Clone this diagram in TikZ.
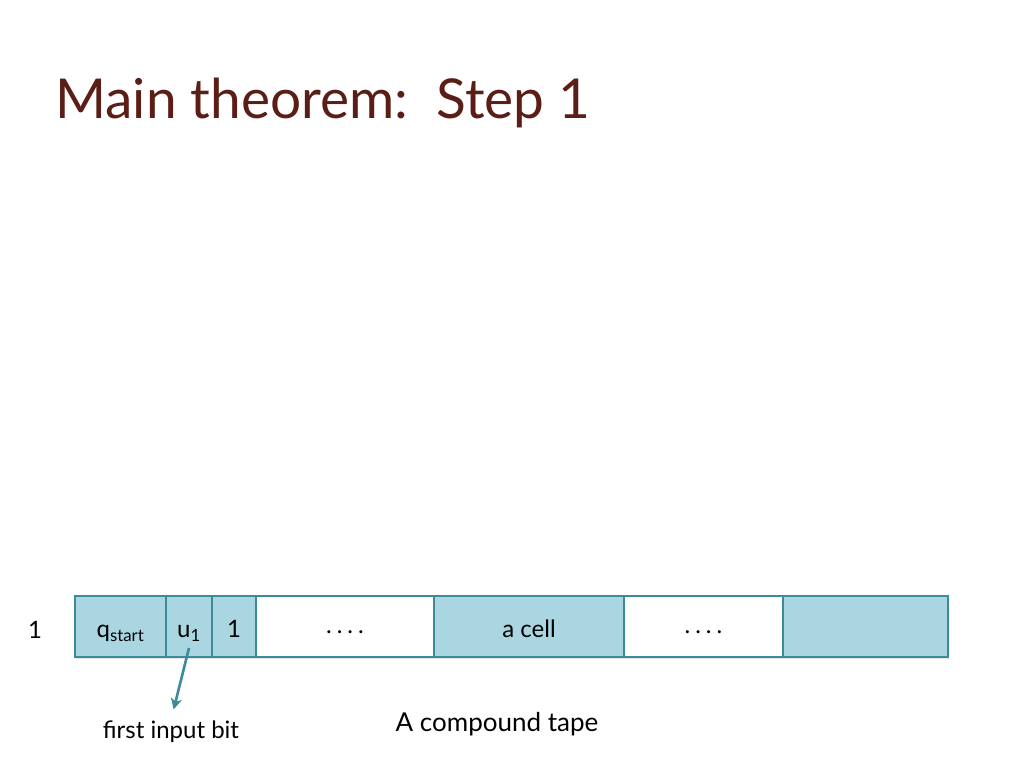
\documentclass[tikz,border=0pt]{standalone}
\usepackage{fontspec}
\setmainfont{Lato}
\usetikzlibrary{positioning, shadows, arrows.meta}
\definecolor{cellblue}{HTML}{A9D6E1}
\definecolor{celledge}{HTML}{3D8A99}
\definecolor{titlebrown}{HTML}{5B1E17}
\newcommand{\tapedots}{\raisebox{4pt}{.\hspace{5pt}.\hspace{5pt}.\hspace{5pt}.}}
\tikzset{
    cellnode/.style = {draw=celledge, fill=cellblue, rectangle, line width=1.8pt, inner sep=0pt,
      outer sep=0pt, minimum height=61pt, text height=26pt, text depth=4pt, node distance=0pt,
      font=\fontsize{24}{28}\selectfont,
      drop shadow={shadow xshift=1pt, shadow yshift=-2pt, opacity=0.2}},
    blanknode/.style = {cellnode, fill=white},
    textnode/.style = {draw=none, fill=none, rectangle, inner sep=0pt, font=\fontsize{24}{28}\selectfont},
    pointer/.style = {celledge, line width=2.6pt, -{Stealth[length=11pt, width=11pt, inset=3pt]}}
}

\begin{document}
\begin{tikzpicture}[x=1pt, y=-1pt]
    \fill[white] (0,0) rectangle (1024,768);
    \useasboundingbox (0,0) rectangle (1024,768);

    \node [textnode, anchor=base west, text=titlebrown, font=\fontsize{55}{64}\selectfont,
        name=title] at (55,118) {Main theorem:\ \ Step 1};

    % the tape
    \node [name=qcell, cellnode, minimum width=91pt, anchor=north west] at (75,596)
        {q\textsubscript{start}};
    \node [name=ucell, cellnode, minimum width=46pt, right=of qcell] {u\textsubscript{1}};
    \node [name=onecell, cellnode, minimum width=44pt, right=of ucell] {1};
    \node [name=dotsa, blanknode, minimum width=178pt, right=of onecell] {\tapedots};
    \node [name=acell, cellnode, minimum width=190pt, right=of dotsa] {a cell};
    \node [name=dotsb, blanknode, minimum width=159pt, right=of acell] {\tapedots};
    \node [name=lastcell, cellnode, minimum width=165pt, right=of dotsb] {};

    \node [name=tapeno, textnode, anchor=base] at (35,638) {1};

    \node [name=firstbit, textnode, anchor=base] at (171,738) {first input bit};
    \node [name=tapename, textnode, anchor=base, font=\fontsize{26}{30}\selectfont] at (497,731)
        {A compound tape};

    \draw [pointer, shorten >=11pt] ([yshift=9pt]ucell.south) -- (firstbit.north);
\end{tikzpicture}
\end{document}
